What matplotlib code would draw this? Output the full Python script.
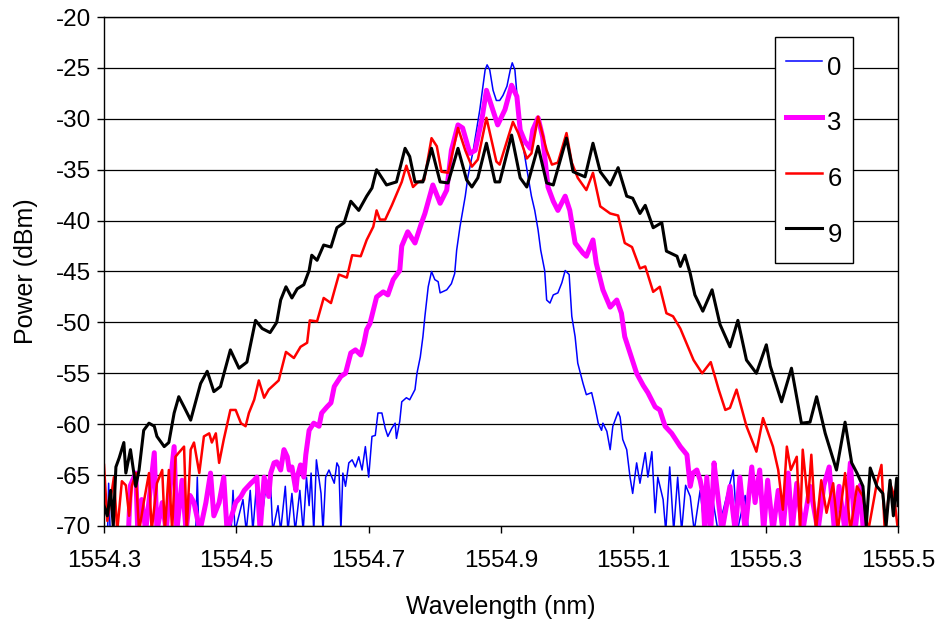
import matplotlib
matplotlib.use('Agg')
import matplotlib.pyplot as plt

# spectra (wavelength in nm, power in dBm)
# values below -70 are off the bottom of the chart
w0 = [1554.300, 1554.305, 1554.307, 1554.310, 1554.438, 1554.441, 1554.444, 1554.491, 1554.495, 1554.498,
      1554.510, 1554.515, 1554.521, 1554.525, 1554.531, 1554.536, 1554.543, 1554.551, 1554.555, 1554.563,
      1554.567, 1554.574, 1554.578, 1554.584, 1554.589, 1554.596, 1554.601, 1554.606, 1554.610, 1554.613,
      1554.617, 1554.621, 1554.628, 1554.631, 1554.635, 1554.640, 1554.648, 1554.652, 1554.655, 1554.658,
      1554.661, 1554.665, 1554.670, 1554.675, 1554.680, 1554.685, 1554.690, 1554.695, 1554.700, 1554.705,
      1554.710, 1554.714, 1554.720, 1554.725, 1554.729, 1554.735, 1554.740, 1554.742, 1554.747, 1554.750,
      1554.757, 1554.762, 1554.770, 1554.773, 1554.778, 1554.782, 1554.785, 1554.790, 1554.795, 1554.800,
      1554.805, 1554.808, 1554.818, 1554.825, 1554.830, 1554.833, 1554.838, 1554.846, 1554.850, 1554.858,
      1554.863, 1554.868, 1554.876, 1554.879, 1554.883, 1554.888, 1554.893, 1554.898, 1554.903, 1554.909,
      1554.914, 1554.917, 1554.921, 1554.926, 1554.931, 1554.936, 1554.941, 1554.946, 1554.951, 1554.956,
      1554.960, 1554.966, 1554.969, 1554.974, 1554.979, 1554.986, 1554.992, 1554.997, 1555.003, 1555.007,
      1555.012, 1555.016, 1555.024, 1555.029, 1555.037, 1555.042, 1555.047, 1555.052, 1555.054, 1555.060,
      1555.065, 1555.069, 1555.077, 1555.080, 1555.084, 1555.090, 1555.095, 1555.099, 1555.105, 1555.110,
      1555.118, 1555.122, 1555.128, 1555.133, 1555.137, 1555.145, 1555.149, 1555.155, 1555.161, 1555.167,
      1555.173, 1555.179, 1555.186, 1555.192, 1555.201, 1555.208, 1555.219, 1555.228, 1555.251, 1555.257,
      1555.269, 1555.276, 1555.500]
p0 = [-72, -72, -65.8, -72, -72, -65.2, -72, -72, -66.5, -70.5,
      -67.4, -70.5, -66.5, -70.5, -65.5, -70.5, -67.0, -64.8, -70.5, -68.0,
      -70.5, -66.1, -70.5, -66.8, -70.5, -66.5, -70.5, -65.2, -68.0, -64.8,
      -70.5, -63.5, -66.8, -70.5, -65.2, -64.5, -65.8, -63.8, -64.2, -70.5,
      -64.8, -66.1, -63.8, -63.5, -64.2, -63.2, -64.5, -62.2, -65.2, -61.2,
      -61.1, -58.9, -58.9, -60.4, -61.2, -60.4, -59.9, -61.4, -59.7, -57.8,
      -57.4, -57.6, -56.6, -55.0, -53.4, -51.4, -49.4, -46.5, -45.0, -45.8,
      -46.0, -47.1, -46.8, -46.2, -45.2, -42.9, -40.6, -37.6, -35.7, -33.1,
      -31.1, -29.1, -25.2, -24.7, -25.2, -27.2, -28.2, -28.2, -27.7, -26.8,
      -25.2, -24.5, -25.2, -29.1, -31.8, -33.7, -35.7, -37.6, -39.0, -40.9,
      -42.9, -44.9, -47.8, -48.1, -47.3, -47.1, -46.1, -44.9, -45.3, -49.4,
      -51.4, -54.0, -56.0, -57.1, -56.9, -58.3, -59.9, -60.6, -59.9, -60.7,
      -62.5, -60.2, -58.8, -59.3, -61.5, -62.5, -65.2, -66.8, -63.8, -65.8,
      -62.8, -65.2, -62.7, -68.7, -65.2, -67.4, -70.5, -64.2, -70.5, -65.2,
      -70.5, -66.0, -67.1, -70.5, -66.5, -70.5, -67.0, -70.5, -64.5, -70.5,
      -67.0, -72, -72]

w3 = [1554.300, 1554.336, 1554.340, 1554.348, 1554.351, 1554.357, 1554.363, 1554.372, 1554.376, 1554.380,
      1554.388, 1554.394, 1554.400, 1554.406, 1554.410, 1554.418, 1554.424, 1554.430, 1554.436, 1554.445,
      1554.454, 1554.461, 1554.466, 1554.474, 1554.481, 1554.486, 1554.493, 1554.499, 1554.507, 1554.512,
      1554.522, 1554.527, 1554.531, 1554.536, 1554.542, 1554.549, 1554.552, 1554.557, 1554.561, 1554.567,
      1554.572, 1554.577, 1554.580, 1554.584, 1554.590, 1554.592, 1554.597, 1554.602, 1554.605, 1554.610,
      1554.617, 1554.625, 1554.629, 1554.637, 1554.643, 1554.648, 1554.658, 1554.665, 1554.673, 1554.680,
      1554.688, 1554.693, 1554.697, 1554.702, 1554.712, 1554.722, 1554.729, 1554.737, 1554.747, 1554.750,
      1554.759, 1554.770, 1554.780, 1554.785, 1554.797, 1554.808, 1554.818, 1554.825, 1554.835, 1554.842,
      1554.853, 1554.861, 1554.871, 1554.878, 1554.886, 1554.895, 1554.906, 1554.916, 1554.924, 1554.929,
      1554.936, 1554.944, 1554.948, 1554.956, 1554.963, 1554.971, 1554.979, 1554.986, 1554.997, 1555.004,
      1555.012, 1555.024, 1555.029, 1555.039, 1555.044, 1555.054, 1555.065, 1555.075, 1555.082, 1555.087,
      1555.095, 1555.105, 1555.115, 1555.122, 1555.133, 1555.140, 1555.148, 1555.158, 1555.171, 1555.181,
      1555.186, 1555.190, 1555.196, 1555.201, 1555.205, 1555.208, 1555.211, 1555.217, 1555.222, 1555.226,
      1555.234, 1555.246, 1555.254, 1555.261, 1555.269, 1555.279, 1555.284, 1555.291, 1555.297, 1555.303,
      1555.311, 1555.319, 1555.326, 1555.334, 1555.340, 1555.347, 1555.356, 1555.367, 1555.379, 1555.388,
      1555.396, 1555.404, 1555.411, 1555.420, 1555.428, 1555.435, 1555.443, 1555.449, 1555.500]
p3 = [-72, -72, -66.0, -64.8, -70.5, -67.4, -70.5, -65.2, -62.8, -70.5,
      -67.7, -70.5, -66.0, -62.2, -70.5, -65.5, -70.5, -67.0, -67.7, -70.5,
      -67.7, -64.8, -69.0, -67.7, -65.2, -70.5, -69.0, -67.7, -67.1, -66.5,
      -65.8, -65.5, -65.2, -70.5, -65.2, -67.1, -64.8, -63.8, -63.7, -64.5,
      -62.5, -63.2, -64.5, -64.2, -66.5, -65.2, -64.0, -65.2, -63.0, -60.6,
      -59.9, -60.2, -58.9, -58.3, -57.9, -56.3, -55.3, -55.0, -53.0, -52.7,
      -53.2, -52.0, -50.7, -50.1, -47.5, -47.0, -47.3, -45.8, -44.9, -42.5,
      -41.1, -42.2, -40.2, -39.3, -36.5, -38.3, -37.0, -33.1, -30.6, -30.9,
      -33.4, -33.1, -30.1, -27.2, -28.8, -30.6, -29.1, -26.7, -27.8, -31.1,
      -32.2, -32.9, -31.1, -29.9, -31.8, -36.7, -38.1, -39.0, -37.6, -39.0,
      -42.2, -43.2, -43.5, -41.9, -44.2, -46.8, -48.5, -47.8, -49.1, -51.4,
      -53.0, -55.0, -56.2, -56.9, -58.3, -58.6, -60.2, -60.9, -62.2, -63.0,
      -66.1, -64.8, -64.5, -65.5, -66.8, -70.5, -65.2, -70.5, -63.8, -66.1,
      -70.5, -66.1, -70.5, -65.2, -70.5, -64.2, -67.7, -64.5, -70.5, -65.5,
      -70.5, -66.5, -70.5, -64.8, -70.5, -65.8, -70.5, -66.1, -70.5, -66.0,
      -64.2, -70.5, -66.1, -70.5, -63.8, -70.5, -66.0, -72, -72]

w6 = [1554.300, 1554.305, 1554.315, 1554.320, 1554.327, 1554.333, 1554.338, 1554.342, 1554.348, 1554.353,
      1554.360, 1554.368, 1554.372, 1554.380, 1554.388, 1554.392, 1554.398, 1554.403, 1554.408, 1554.413,
      1554.421, 1554.425, 1554.431, 1554.436, 1554.444, 1554.451, 1554.459, 1554.463, 1554.469, 1554.474,
      1554.481, 1554.491, 1554.499, 1554.507, 1554.514, 1554.519, 1554.527, 1554.534, 1554.542, 1554.549,
      1554.559, 1554.564, 1554.575, 1554.587, 1554.597, 1554.607, 1554.611, 1554.622, 1554.632, 1554.643,
      1554.655, 1554.667, 1554.675, 1554.688, 1554.697, 1554.707, 1554.712, 1554.717, 1554.725, 1554.735,
      1554.750, 1554.757, 1554.767, 1554.775, 1554.784, 1554.795, 1554.803, 1554.810, 1554.820, 1554.835,
      1554.846, 1554.856, 1554.865, 1554.878, 1554.893, 1554.898, 1554.918, 1554.926, 1554.939, 1554.946,
      1554.956, 1554.969, 1554.977, 1554.986, 1554.999, 1555.007, 1555.016, 1555.029, 1555.039, 1555.050,
      1555.065, 1555.077, 1555.087, 1555.098, 1555.110, 1555.118, 1555.130, 1555.140, 1555.150, 1555.160,
      1555.171, 1555.191, 1555.204, 1555.217, 1555.229, 1555.239, 1555.246, 1555.256, 1555.271, 1555.286,
      1555.296, 1555.311, 1555.319, 1555.326, 1555.332, 1555.338, 1555.347, 1555.352, 1555.356, 1555.364,
      1555.369, 1555.376, 1555.384, 1555.392, 1555.402, 1555.409, 1555.420, 1555.428, 1555.438, 1555.447,
      1555.455, 1555.468, 1555.475, 1555.480, 1555.488, 1555.494, 1555.500]
p6 = [-64.0, -69.5, -65.2, -70.5, -65.6, -66.0, -69.0, -66.1, -64.8, -70.5,
      -67.7, -64.8, -70.5, -65.8, -64.5, -70.5, -64.5, -70.5, -63.2, -62.8,
      -62.2, -70.5, -62.5, -61.8, -64.8, -61.2, -60.9, -61.8, -60.9, -63.8,
      -61.5, -58.6, -58.6, -59.9, -60.2, -58.9, -57.6, -55.7, -57.4, -56.6,
      -56.0, -55.7, -52.9, -53.5, -52.4, -52.0, -49.8, -49.9, -47.6, -48.1,
      -45.3, -45.6, -43.4, -43.5, -41.9, -40.6, -39.0, -39.9, -39.9, -38.5,
      -36.2, -34.6, -36.7, -36.2, -36.0, -31.9, -32.7, -35.2, -35.3, -30.9,
      -33.1, -34.7, -34.0, -29.9, -34.2, -34.5, -30.3, -31.4, -33.9, -33.4,
      -29.8, -33.1, -34.5, -34.3, -31.4, -34.3, -35.8, -37.0, -35.3, -38.6,
      -39.3, -39.5, -42.2, -42.6, -44.7, -44.5, -47.0, -46.5, -49.1, -49.4,
      -50.6, -53.7, -55.0, -53.9, -56.6, -58.6, -58.4, -56.6, -60.2, -62.7,
      -59.4, -62.2, -64.5, -68.4, -62.2, -64.5, -63.2, -70.5, -62.5, -67.7,
      -63.0, -70.5, -65.5, -68.7, -65.8, -70.5, -64.8, -70.5, -66.1, -67.1,
      -70.5, -65.8, -64.0, -70.5, -65.8, -67.0, -70.5]

w9 = [1554.300, 1554.305, 1554.310, 1554.314, 1554.318, 1554.323, 1554.330, 1554.333, 1554.340, 1554.348,
      1554.353, 1554.360, 1554.368, 1554.376, 1554.380, 1554.391, 1554.398, 1554.406, 1554.413, 1554.421,
      1554.431, 1554.436, 1554.446, 1554.456, 1554.466, 1554.476, 1554.491, 1554.504, 1554.516, 1554.529,
      1554.539, 1554.551, 1554.561, 1554.567, 1554.575, 1554.584, 1554.592, 1554.602, 1554.610, 1554.614,
      1554.622, 1554.632, 1554.643, 1554.652, 1554.663, 1554.673, 1554.685, 1554.697, 1554.705, 1554.712,
      1554.727, 1554.742, 1554.755, 1554.762, 1554.770, 1554.782, 1554.795, 1554.808, 1554.820, 1554.835,
      1554.848, 1554.856, 1554.865, 1554.878, 1554.891, 1554.898, 1554.916, 1554.929, 1554.939, 1554.956,
      1554.969, 1554.979, 1554.999, 1555.009, 1555.027, 1555.039, 1555.050, 1555.065, 1555.077, 1555.090,
      1555.099, 1555.110, 1555.118, 1555.130, 1555.143, 1555.150, 1555.166, 1555.171, 1555.178, 1555.186,
      1555.193, 1555.205, 1555.219, 1555.231, 1555.246, 1555.258, 1555.271, 1555.286, 1555.301, 1555.307,
      1555.324, 1555.339, 1555.354, 1555.367, 1555.377, 1555.390, 1555.407, 1555.420, 1555.430, 1555.438,
      1555.447, 1555.452, 1555.458, 1555.468, 1555.477, 1555.482, 1555.488, 1555.493, 1555.498, 1555.500]
p9 = [-68.0, -69.0, -66.5, -70.0, -64.2, -63.3, -61.8, -64.8, -62.5, -66.1,
      -64.5, -60.6, -59.9, -60.2, -61.2, -62.2, -61.8, -58.9, -57.3, -58.3,
      -59.6, -58.4, -56.0, -54.8, -56.8, -56.3, -52.7, -54.5, -53.9, -49.8,
      -50.6, -51.0, -50.0, -47.8, -46.5, -47.6, -46.7, -46.3, -44.9, -43.4,
      -43.9, -42.4, -42.6, -40.7, -40.2, -38.1, -39.0, -37.6, -36.8, -35.0,
      -36.5, -36.2, -32.9, -33.7, -36.2, -36.2, -32.9, -36.2, -36.3, -32.9,
      -36.0, -36.7, -35.8, -32.4, -36.2, -36.2, -31.6, -35.8, -36.7, -32.7,
      -36.3, -36.5, -31.9, -35.2, -35.7, -32.4, -35.2, -36.5, -34.8, -37.6,
      -37.8, -39.3, -38.5, -40.7, -40.2, -43.0, -43.5, -44.5, -43.4, -45.2,
      -47.3, -48.9, -46.8, -50.2, -52.4, -49.8, -53.7, -55.0, -52.2, -54.3,
      -57.8, -54.5, -59.9, -59.8, -57.3, -60.9, -64.5, -59.8, -63.8, -64.8,
      -66.1, -70.0, -64.3, -66.1, -66.8, -70.0, -65.5, -69.0, -65.3, -68.0]

xticks = [1554.3, 1554.5, 1554.7, 1554.9, 1555.1, 1555.3, 1555.5]
yticks = [-70, -65, -60, -55, -50, -45, -40, -35, -30, -25, -20]

plt.rcParams['font.family'] = ['Liberation Sans', 'DejaVu Sans']
plt.rcParams['axes.unicode_minus'] = False

fig = plt.figure(figsize=(9.45, 6.25), dpi=100)
ax = fig.add_axes([104/945, 1 - 526/625, 794/945, 509/625])

ax.plot(w0, p0, color='#0000FF', lw=1.1, label='0')
ax.plot(w3, p3, color='#FF00FF', lw=3.6, label='3')
ax.plot(w6, p6, color='#FF0000', lw=1.8, label='6')
ax.plot(w9, p9, color='#000000', lw=2.2, label='9')

ax.set_xlim(1554.3, 1555.5)
ax.set_ylim(-70, -20)
ax.set_xticks(xticks)
ax.set_xticklabels(['%.1f' % t for t in xticks])
ax.set_yticks(yticks)
ax.yaxis.grid(True, color='black', lw=0.9)
ax.set_axisbelow(True)
for s in ax.spines.values():
    s.set_linewidth(1.0)
ax.tick_params(labelsize=17.5, length=5, width=1, direction='out')
ax.tick_params(axis='x', pad=12)
ax.tick_params(axis='y', pad=4)

ax.set_xlabel('Wavelength (nm)', fontsize=18, labelpad=17)
ax.set_ylabel('Power (dBm)', fontsize=18, labelpad=13)

leg = ax.legend(loc='upper left', bbox_to_anchor=(0.845, 0.9607), borderaxespad=0,
                fancybox=False, edgecolor='black', framealpha=1, fontsize=18.5,
                handlelength=1.4, handleheight=1.85, handletextpad=0.22,
                labelspacing=0.72, borderpad=0.42)
leg.get_frame().set_linewidth(1.0)

fig.savefig('out.png', dpi=100)
